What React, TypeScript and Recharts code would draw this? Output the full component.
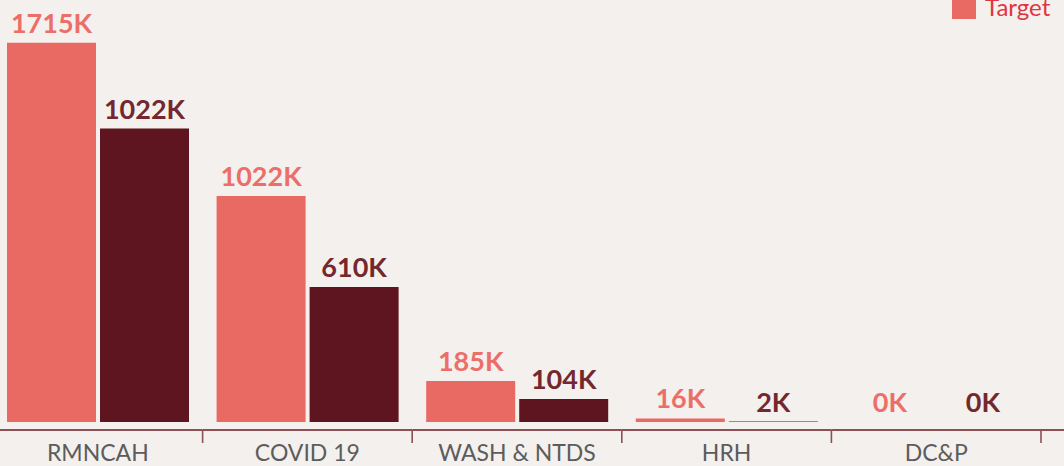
import React from 'react';
import { BarChart, Bar, XAxis, YAxis, LabelList } from 'recharts';

const categories = ['RMNCAH', 'COVID 19', 'WASH & NTDS', 'HRH', 'DC&P'];
const targetValues = [1715, 1022, 185, 16, 0];
// bar heights as drawn; the first actual bar is taller than its label says
const actualValues = [1327, 610, 104, 2, 0];
const targetLabels = ['1715K', '1022K', '185K', '16K', '0K'];
const actualLabels = ['1022K', '610K', '104K', '2K', '0K'];

const data = categories.map((name, i) => ({
  name,
  target: targetValues[i],
  actual: actualValues[i],
  targetLabel: targetLabels[i],
  actualLabel: actualLabels[i],
}));

const W = 1064;
const H = 466;
const margin = { top: 24, right: 23, bottom: 0, left: -7 };
const BAND = (W - margin.left - margin.right) / categories.length;
const AXIS_COLOR = '#8e4f56';

// zero bars still need a (invisible) rect so their label gets drawn
const tinyForZero = (value: any) => (Number(value) === 0 ? 0.01 : 0);

function CategoryTick(props: any) {
  const { x, y, payload, index } = props;
  const last = index === categories.length - 1;
  const lineY = y + 8;
  return (
    <g>
      <line
        x1={x - BAND / 2}
        x2={x + BAND / 2 + (last ? 40 : 0)}
        y1={lineY}
        y2={lineY}
        stroke={AXIS_COLOR}
        strokeWidth={2}
      />
      <line x1={x + BAND / 2} x2={x + BAND / 2} y1={lineY} y2={lineY + 13} stroke={AXIS_COLOR} strokeWidth={1.6} />
      <text x={x} y={y + 39} textAnchor="middle" fill="#5c5c5c" fontSize={23} fontFamily="Lato">
        {payload.value}
      </text>
    </g>
  );
}

export default function App() {
  return (
    <div style={{ position: 'absolute', left: 0, top: 0, width: W, height: H, background: '#f4f0ed', overflow: 'hidden' }}>
      <BarChart width={W} height={H} data={data} margin={margin} barGap={4} barSize={89}>
        <XAxis
          dataKey="name"
          axisLine={false}
          tickLine={false}
          tickSize={0}
          tickMargin={0}
          height={44}
          interval={0}
          tick={<CategoryTick />}
        />
        <YAxis hide domain={[0, 1800]} />
        <Bar dataKey="target" fill="#e96a63" minPointSize={tinyForZero} isAnimationActive={false}>
          <LabelList
            dataKey="targetLabel"
            position="top"
            offset={10}
            fill="#ec6e68"
            fontSize={27}
            fontWeight={700}
            fontFamily="Lato"
          />
        </Bar>
        <Bar dataKey="actual" fill="#5e1520" minPointSize={tinyForZero} isAnimationActive={false}>
          <LabelList
            dataKey="actualLabel"
            position="top"
            offset={10}
            fill="#74272d"
            fontSize={27}
            fontWeight={700}
            fontFamily="Lato"
          />
        </Bar>
      </BarChart>
      <div
        style={{
          position: 'absolute',
          top: -5,
          left: 952,
          display: 'flex',
          alignItems: 'center',
          fontFamily: 'Lato',
          fontSize: 24,
          color: '#e0343f',
        }}
      >
        <span style={{ display: 'inline-block', width: 24, height: 24, background: '#e96a63', marginRight: 9 }} />
        <span style={{ lineHeight: '24px' }}>Target</span>
      </div>
    </div>
  );
}
